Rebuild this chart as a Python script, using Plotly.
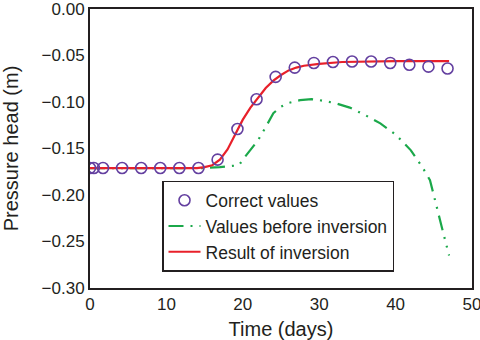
import plotly.graph_objects as go

# Observed pressure head (correct values)
t_obs = [0.0, 0.5, 1.7, 4.2, 6.7, 9.2, 11.7, 14.2, 16.7, 19.3, 21.8, 24.3,
         26.8, 29.3, 31.8, 34.3, 36.8, 39.3, 41.8, 44.3, 46.8]
h_obs = [-0.171, -0.171, -0.171, -0.171, -0.171, -0.171, -0.171, -0.171, -0.162,
         -0.129, -0.097, -0.073, -0.063, -0.058, -0.057, -0.0565, -0.0565, -0.058,
         -0.060, -0.062, -0.064]

# Simulated head before inversion
t_pre = [0, 15, 17, 19, 19.5, 20, 21, 22, 23, 24, 25, 26, 27.5, 29, 30, 32, 34,
         36, 38, 40, 42, 43.5, 44.5, 45.2, 46, 47]
h_pre = [-0.171, -0.171, -0.170, -0.169, -0.168, -0.162, -0.152, -0.141, -0.127,
         -0.112, -0.105, -0.101, -0.098, -0.097, -0.098, -0.101, -0.106, -0.114,
         -0.123, -0.135, -0.152, -0.170, -0.184, -0.208, -0.233, -0.265]

# Simulated head after inversion
t_inv = [0, 14, 15, 16, 17, 18, 19, 20, 21, 22, 23, 24, 25, 26, 27, 28, 30, 33,
         36, 40, 47]
h_inv = [-0.171, -0.171, -0.170, -0.168, -0.162, -0.151, -0.135, -0.119, -0.106,
         -0.095, -0.085, -0.077, -0.071, -0.066, -0.063, -0.061, -0.059, -0.057,
         -0.0565, -0.056, -0.056]

FONT = "Liberation Sans, Arial, Helvetica, sans-serif"
INK = "#231f20"

fig = go.Figure()
fig.add_trace(go.Scatter(
    x=t_pre, y=h_pre, mode="lines", name="Values before inversion",
    line=dict(color="#1ba84a", width=2.2, dash="15px,7px,2px,7px,2px,7px"),
    legendgroup="b", legendrank=2))
fig.add_trace(go.Scatter(
    x=t_inv, y=h_inv, mode="lines", name="Result of inversion",
    line=dict(color="#e8202a", width=2.2),
    legendgroup="c", legendrank=3))
fig.add_trace(go.Scatter(
    x=t_obs, y=h_obs, mode="markers", name="Correct values",
    marker=dict(symbol="circle-open", size=11, color="#6440a0",
                line=dict(width=1.6, color="#6440a0")),
    legendgroup="a", legendrank=1))

axis_common = dict(showline=True, mirror=True, linecolor=INK, linewidth=2,
                   showgrid=False, zeroline=False, ticks="", automargin=False,
                   ticklabeloverflow="allow",
                   tickfont=dict(family=FONT, size=17, color=INK))

fig.update_layout(
    width=480, height=340,
    margin=dict(l=90, r=8, t=9, b=52),
    paper_bgcolor="white", plot_bgcolor="white",
    font=dict(family=FONT, color=INK),
    showlegend=True,
    legend=dict(x=0.1885, y=0.384, xanchor="left", yanchor="top",
                bgcolor="white", bordercolor=INK, borderwidth=1.5,
                font=dict(family=FONT, size=17.5, color=INK),
                itemwidth=32,
                traceorder="grouped", tracegroupgap=0),
    xaxis=dict(range=[0, 50], dtick=10, tick0=0,
               title=dict(text="Time (days)", font=dict(family=FONT, size=20), standoff=9),
               **axis_common),
    yaxis=dict(range=[-0.30, 0.0], dtick=0.05, tick0=0, tickformat=".2f",
               title=dict(text="Pressure head (m)", font=dict(family=FONT, size=20), standoff=18),
               **axis_common),
)

fig.write_html("out.html")
